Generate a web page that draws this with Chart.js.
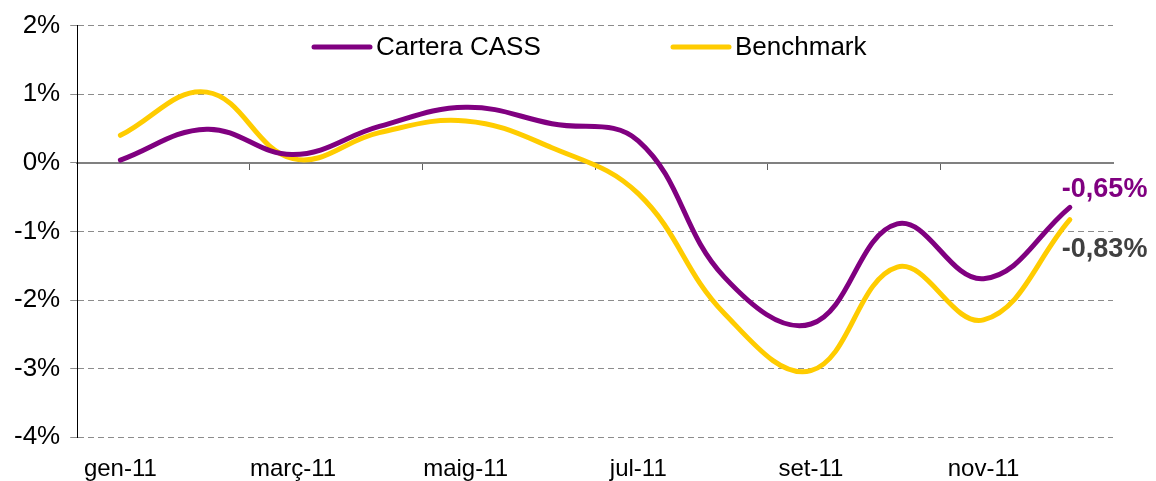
<!DOCTYPE html>
<html>
<head>
<meta charset="utf-8">
<script src="https://cdn.jsdelivr.net/npm/chart.js@4/dist/chart.umd.min.js"></script>
<style>
    body { margin: 0; background: #fff; }
    #wrap { width: 1156px; height: 481px; }
</style>
</head>
<body>
<div id="wrap"><canvas id="perfChart"></canvas></div>
<script>
// month labels (Catalan), one point per month
const months = ['gen-11', 'febr-11', 'març-11', 'abr-11', 'maig-11', 'juny-11',
    'jul-11', 'ag-11', 'set-11', 'oct-11', 'nov-11', 'des-11'];

// cumulative return in %
const cartera = [0.04, 0.49, 0.12, 0.53, 0.81, 0.57, 0.32, -1.67, -2.35, -0.89, -1.69, -0.65];
const benchmark = [0.40, 1.03, 0.06, 0.44, 0.61, 0.22, -0.45, -2.20, -3.03, -1.52, -2.29, -0.83];

const yTicks = [-4, -3, -2, -1, 0, 1, 2];

const FONT = "'Liberation Sans', Arial, sans-serif";
const PURPLE = '#800080';
const YELLOW = '#FFCC00';

document.addEventListener('DOMContentLoaded', () => {
    const ctx = document.getElementById('perfChart').getContext('2d');

    // legend drawn inside the plot, like the original
    const innerLegend = {
        id: 'innerLegend',
        afterDraw(chart) {
            const c = chart.ctx;
            const starts = [314, 673];
            c.save();
            c.font = '26px ' + FONT;
            c.textBaseline = 'middle';
            chart.data.datasets.forEach((ds, i) => {
                const x = starts[i];
                const y = 47;
                c.strokeStyle = ds.borderColor;
                c.lineWidth = 5;
                c.lineCap = 'round';
                c.beginPath();
                c.moveTo(x, y);
                c.lineTo(x + 56, y);
                c.stroke();
                c.fillStyle = '#000';
                c.fillText(ds.label, x + 62, y + 1);
            });
            c.restore();
        }
    };

    // last value written next to the end of each line
    const endLabels = {
        id: 'endLabels',
        afterDatasetsDraw(chart) {
            const c = chart.ctx;
            const offsets = [-18, 30];
            const colors = [PURPLE, '#404040'];
            c.save();
            c.font = 'bold 27px ' + FONT;
            c.textBaseline = 'middle';
            chart.data.datasets.forEach((ds, i) => {
                const meta = chart.getDatasetMeta(i);
                const pt = meta.data[meta.data.length - 1];
                const v = ds.data[ds.data.length - 1];
                c.fillStyle = colors[i];
                c.fillText(v.toFixed(2).replace('.', ',') + '%', pt.x - 8, pt.y + offsets[i]);
            });
            c.restore();
        }
    };

    new Chart(ctx, {
        type: 'line',
        data: {
            labels: months,
            datasets: [
                {
                    label: 'Cartera CASS',
                    data: cartera,
                    borderColor: PURPLE,
                    borderWidth: 5,
                    pointRadius: 0,
                    tension: 0.4,
                    borderCapStyle: 'round'
                },
                {
                    label: 'Benchmark',
                    data: benchmark,
                    borderColor: YELLOW,
                    borderWidth: 5,
                    pointRadius: 0,
                    tension: 0.4,
                    borderCapStyle: 'round'
                }
            ]
        },
        options: {
            responsive: true,
            maintainAspectRatio: false,
            animation: false,
            layout: { padding: { top: 10, right: 43, bottom: -21, left: 4 } },
            plugins: {
                legend: { display: false },
                tooltip: { enabled: false }
            },
            scales: {
                x: {
                    type: 'category',
                    offset: true,
                    grid: { display: false, drawTicks: false },
                    border: { display: false },
                    ticks: {
                        autoSkip: false,
                        maxRotation: 0,
                        padding: 18,
                        color: '#000',
                        font: { family: FONT, size: 24 },
                        callback: function (v, i) {
                            return i % 2 === 0 ? this.getLabelForValue(v) : '';
                        }
                    }
                },
                // horizontal axis line drawn through 0 %
                xZero: {
                    type: 'category',
                    offset: true,
                    position: { y: 0 },
                    ticks: { display: false, autoSkip: false },
                    grid: {
                        offset: true,
                        drawOnChartArea: false,
                        tickLength: 6,
                        lineWidth: 1,
                        color: (c) => (c.index % 2 === 0 ? '#606060' : 'rgba(0,0,0,0)')
                    },
                    border: { color: '#808080', width: 2 }
                },
                y: {
                    min: -4,
                    max: 2,
                    afterBuildTicks: (scale) => {
                        scale.ticks = yTicks.map(v => ({ value: v }));
                    },
                    ticks: {
                        padding: 10,
                        color: '#000',
                        font: { family: FONT, size: 26 },
                        callback: (v) => v + '%'
                    },
                    grid: {
                        color: '#8c8c8c',
                        lineWidth: 1,
                        tickLength: 7
                    },
                    border: { color: '#000', width: 1, dash: [6, 4] }
                }
            }
        },
        plugins: [innerLegend, endLabels]
    });
});
</script>
</body>
</html>
